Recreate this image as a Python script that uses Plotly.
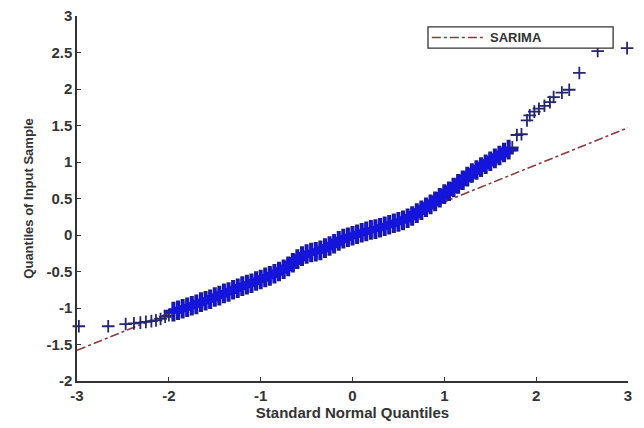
import plotly.graph_objects as go

# Reference line (SARIMA) endpoints
line_x = [-3.0, 3.0]
line_y = [-1.58, 1.47]

# Lower tail points
low_x = [-2.98, -2.66, -2.47, -2.38, -2.31, -2.25, -2.19, -2.14, -2.09, -2.04, -2.00]
low_y = [-1.25, -1.25, -1.22, -1.21, -1.20, -1.19, -1.18, -1.17, -1.15, -1.12, -1.10]

# Dense body points
body_x = [-1.95, -1.90, -1.85, -1.80, -1.75, -1.70, -1.65, -1.60, -1.55, -1.50,
          -1.45, -1.40, -1.35, -1.30, -1.25, -1.20, -1.15, -1.10, -1.05, -1.00,
          -0.95, -0.90, -0.85, -0.80, -0.75, -0.70, -0.65, -0.60, -0.55, -0.50,
          -0.45, -0.40, -0.35, -0.30, -0.25, -0.20, -0.15, -0.10, -0.05, 0.00,
          0.05, 0.10, 0.15, 0.20, 0.25, 0.30, 0.35, 0.40, 0.45, 0.50,
          0.55, 0.60, 0.65, 0.70, 0.75, 0.80, 0.85, 0.90, 0.95, 1.00,
          1.05, 1.10, 1.15, 1.20, 1.25, 1.30, 1.35, 1.40, 1.45, 1.50,
          1.55, 1.60, 1.65, 1.70]
body_y = [-1.05, -1.03, -1.01, -0.99, -0.97, -0.95, -0.92, -0.90, -0.88, -0.85,
          -0.83, -0.80, -0.78, -0.75, -0.73, -0.70, -0.68, -0.66, -0.63, -0.61,
          -0.58, -0.56, -0.53, -0.50, -0.47, -0.43, -0.38, -0.33, -0.29, -0.26,
          -0.24, -0.23, -0.21, -0.18, -0.15, -0.12, -0.08, -0.05, -0.03, -0.01,
          0.01, 0.03, 0.05, 0.07, 0.08, 0.10, 0.12, 0.14, 0.16, 0.18,
          0.20, 0.23, 0.26, 0.30, 0.34, 0.38, 0.42, 0.46, 0.51, 0.56,
          0.60, 0.65, 0.70, 0.75, 0.80, 0.85, 0.89, 0.93, 0.97, 1.01,
          1.05, 1.09, 1.13, 1.17]

# Upper tail points
up_x = [1.74, 1.79, 1.84, 1.90, 1.93, 1.98, 2.03, 2.09, 2.15, 2.19, 2.28, 2.36, 2.47, 2.67, 2.99]
up_y = [1.20, 1.37, 1.38, 1.57, 1.64, 1.69, 1.73, 1.77, 1.82, 1.89, 1.95, 1.99, 2.22, 2.52, 2.56]

x_ticks = [-3, -2, -1, 0, 1, 2, 3]
y_ticks = [-2, -1.5, -1, -0.5, 0, 0.5, 1, 1.5, 2, 2.5, 3]

legend_label = "SARIMA"

line_color = "#8c3b3b"
tail_color = "#262670"
body_edge = "#1c1c8a"
body_color = "#1414dc"
text_color = "#333333"
font_fam = "Liberation Sans, Arial, sans-serif"

fig = go.Figure()
fig.add_trace(go.Scatter(
    x=line_x, y=line_y, mode="lines", name=legend_label, showlegend=False,
    line=dict(color=line_color, width=1.6, dash="dashdot")))
fig.add_trace(go.Scatter(
    x=body_x, y=body_y, mode="markers", showlegend=False,
    marker=dict(symbol="cross-thin", size=14,
                line=dict(color=body_edge, width=4.0))))
fig.add_trace(go.Scatter(
    x=body_x, y=body_y, mode="markers", showlegend=False,
    marker=dict(symbol="cross-thin", size=11,
                line=dict(color=body_color, width=3.2))))
for xs, ys in [(low_x, low_y), (up_x, up_y)]:
    fig.add_trace(go.Scatter(
        x=xs, y=ys, mode="markers", showlegend=False, cliponaxis=False,
        marker=dict(symbol="cross-thin", size=9,
                    line=dict(color=tail_color, width=1.8))))

axis_common = dict(
    showgrid=False, zeroline=False, showline=True, linecolor=text_color, linewidth=1.5,
    ticks="inside", ticklen=4, tickcolor=text_color, tickwidth=1.3, mirror=False,
    automargin=False, ticklabeloverflow="allow",
    tickfont=dict(family=font_fam, size=15, color=text_color, weight="bold"),
)
fig.update_xaxes(range=[-3, 3], tickvals=x_ticks, ticktext=[str(v) for v in x_ticks],
                 title=dict(text="Standard Normal Quantiles", standoff=2,
                            font=dict(family=font_fam, size=15, color=text_color, weight="bold")),
                 **axis_common)
fig.update_yaxes(range=[-2, 3], tickvals=y_ticks, ticktext=[("%g" % v) for v in y_ticks],
                 title=dict(text="Quantiles of Input Sample", standoff=10,
                            font=dict(family=font_fam, size=13, color=text_color, weight="bold")),
                 **axis_common)

# Legend box drawn as shapes + text (paper coordinates of the plot area)
fig.add_shape(type="rect", xref="paper", yref="paper",
              x0=0.637, x1=0.973, y0=0.912, y1=0.970,
              line=dict(color=text_color, width=1.3), fillcolor="white", layer="above")
fig.add_shape(type="line", xref="paper", yref="paper",
              x0=0.644, x1=0.742, y0=0.941, y1=0.941,
              line=dict(color=line_color, width=1.6, dash="dashdot"), layer="above")
fig.add_annotation(text=legend_label, xref="paper", yref="paper",
                   x=0.746, y=0.941, xanchor="left", yanchor="middle", showarrow=False,
                   font=dict(family=font_fam, size=13, color=text_color, weight="bold"))

# The page body has an 8px default margin; margins compensate so the
# plot area lands where it is in the reference.
fig.update_layout(
    width=644, height=428,
    margin=dict(l=69, r=24, t=8, b=55),
    paper_bgcolor="white", plot_bgcolor="white",
    showlegend=False,
)

fig.write_html("out.html")
